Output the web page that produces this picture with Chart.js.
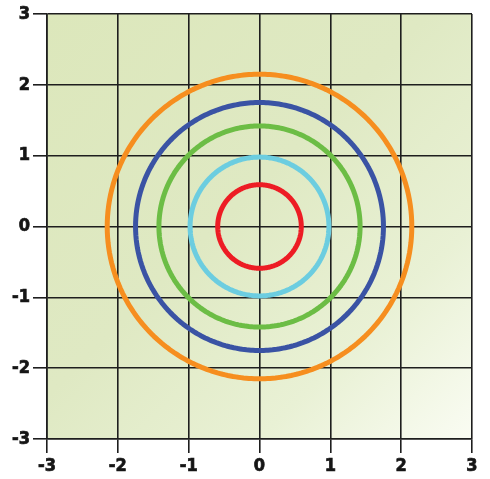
<!DOCTYPE html>
<html>
<head>
<meta charset="utf-8">
<script src="https://cdn.jsdelivr.net/npm/chart.js@4"></script>
<style>
  html, body { margin: 0; padding: 0; background: #fff; }
  #wrap { width: 490px; height: 479px; }
</style>
</head>
<body>
<div id="wrap"><canvas id="chart" width="490" height="479"></canvas></div>
<script>
////////////
//// Data

let RADII = [0.59, 0.98, 1.42, 1.75, 2.15];
let COLORS = ['#ed1c24', '#6ccde0', '#6cbd45', '#3a53a4', '#f68e1f'];
let TICKS = [-3, -2, -1, 0, 1, 2, 3];
let STEPS = 180;

// each series is the circle x^2 + y^2 = r^2
function circlePoints(r) {
	let pts = [];
	for (let i = 0; i <= STEPS; ++i) {
		let a = 2 * Math.PI * i / STEPS;
		pts.push({x: r * Math.cos(a), y: r * Math.sin(a)});
	}
	return pts;
}

let datasets = [];
for (let i = 0; i < RADII.length; ++i) {
	datasets.push({
		data: circlePoints(RADII[i]),
		borderColor: COLORS[i],
		borderWidth: 5,
		borderCapStyle: 'round',
		borderJoinStyle: 'round',
		tension: 0.001,   // keeps chart.js off the fast path (it squashes columns of points)
		showLine: true,
		pointRadius: 0,
		fill: false
	});
}

// gradient background of the plot area
let bgPlugin = {
	id: 'bg',
	beforeDraw(chart) {
		let a = chart.chartArea, c = chart.ctx;
		let g = c.createLinearGradient(a.left, a.top, a.right, a.bottom);
		g.addColorStop(0, '#dce7bb');
		g.addColorStop(0.45, '#dfe9c3');
		g.addColorStop(0.75, '#e9f1d5');
		g.addColorStop(1, '#fafcf3');
		c.save();
		c.fillStyle = g;
		c.fillRect(a.left, a.top, a.right - a.left, a.bottom - a.top);
		c.restore();
	}
};

let tickFont = {family: 'DejaVu Sans Condensed', size: 18, weight: 'bold'};

function axis(extra) {
	return Object.assign({
		type: 'linear',
		min: -3,
		max: 3,
		afterBuildTicks: s => { s.ticks = TICKS.map(v => ({value: v})); },
		grid: {color: '#1e1e1e', lineWidth: 1.6, tickLength: 14, tickColor: '#1e1e1e'},
		border: {color: '#1e1e1e', width: 1.6},
		ticks: {
			color: '#151515',
			font: tickFont,
			padding: 3,
			textStrokeColor: '#151515',
			textStrokeWidth: 0.7
		}
	}, extra);
}

let ctx = document.getElementById('chart').getContext('2d');
let chart = new Chart(ctx, {
	type: 'scatter',
	data: {datasets: datasets},
	options: {
		responsive: false,
		animation: false,
		events: [],
		layout: {padding: {top: 14, right: 18, left: 0, bottom: 0}},
		plugins: {legend: {display: false}, tooltip: {enabled: false}},
		scales: {
			x: axis({afterFit: s => { s.height = 40; }}),
			y: axis({afterFit: s => { s.width = 47; }})
		}
	},
	plugins: [bgPlugin]
});
</script>
</body>
</html>
